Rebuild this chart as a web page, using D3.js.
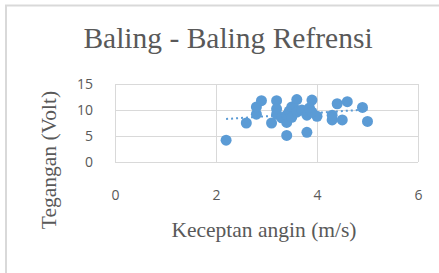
<!DOCTYPE html>
<html lang="en">
  <head>
    <meta charset="utf-8" />
    <title>Baling - Baling Refrensi</title>
    <script type="text/javascript" src="https://d3js.org/d3.v7.min.js"></script>
    <style>
      body {
        margin: 0;
        background: #fff;
      }
      .axis text {
        font-family: "Open Sans", sans-serif;
        font-size: 14px;
        fill: #595959;
      }
      .axis line {
        stroke: #d9d9d9;
      }
      .axis path {
        display: none;
      }
      .judul {
        font-family: "Liberation Serif", serif;
        fill: #595959;
      }
      circle.titik {
        fill: #5b9bd5;
      }
      path.trend {
        fill: none;
        stroke: #5b9bd5;
        stroke-width: 2px;
        stroke-dasharray: 2 3;
      }
    </style>
  </head>
  <body>
    <script>
      let w = 439;
      let h = 273;

      // kecepatan angin (m/s) dan tegangan (Volt)
      let kecepatan = [2.2, 2.6, 2.8, 2.8, 2.9, 3.1, 3.2, 3.2, 3.2, 3.3, 3.4, 3.4, 3.4, 3.4, 3.45, 3.5, 3.6, 3.55, 3.5, 3.6, 3.7, 3.8, 3.8, 3.9, 3.85, 4.0, 3.9, 4.3, 4.3, 4.4, 4.5, 4.6, 4.9, 5.0];
      let tegangan = [4.2, 7.5, 9.2, 10.6, 11.8, 7.5, 11.8, 10.2, 9.2, 8.5, 5.1, 7.6, 8.2, 9.0, 9.8, 10.6, 12.0, 10.3, 8.6, 9.6, 10.0, 5.7, 9.0, 11.9, 10.4, 8.8, 9.6, 8.1, 9.0, 11.2, 8.1, 11.6, 10.5, 7.8];
      let xTicks = [0, 2, 4, 6];
      let yTicks = [0, 5, 10, 15];

      let data = kecepatan.map((k, i) => ({ x: k, y: tegangan[i] }));

      let plot = { left: 115, right: 418, top: 84, bottom: 162 };

      let svg = d3.select("body").append("svg").attr("width", w).attr("height", h);

      // bingkai luar
      svg.append("rect")
        .attr("x", 6)
        .attr("y", 5.5)
        .attr("width", 500)
        .attr("height", 400)
        .attr("fill", "none")
        .attr("stroke", "#d9d9d9")
        .attr("stroke-width", 2);

      let x_scale = d3.scaleLinear().domain([0, 6]).range([plot.left, plot.right]);
      let y_scale = d3.scaleLinear().domain([0, 15]).range([plot.bottom, plot.top]);

      svg.append("g")
        .attr("class", "x axis")
        .attr("transform", `translate(0,${plot.bottom})`)
        .call(d3.axisBottom(x_scale).tickValues(xTicks).tickFormat(d3.format("d")).tickSize(-(plot.bottom - plot.top)).tickPadding(28));

      svg.append("g")
        .attr("class", "y axis")
        .attr("transform", `translate(${plot.left},0)`)
        .call(d3.axisLeft(y_scale).tickValues(yTicks).tickSize(-(plot.right - plot.left)).tickPadding(22));

      // garis tren linear
      let mx = d3.mean(data, (d) => d.x);
      let my = d3.mean(data, (d) => d.y);
      let slope = d3.sum(data, (d) => (d.x - mx) * (d.y - my)) / d3.sum(data, (d) => (d.x - mx) ** 2);
      let icpt = my - slope * mx;
      let ext = d3.extent(data, (d) => d.x);
      let trend = ext.map((v) => ({ x: v, y: icpt + slope * v }));

      svg.selectAll("circle.titik")
        .data(data)
        .join("circle")
        .attr("class", "titik")
        .attr("cx", (d) => x_scale(d.x))
        .attr("cy", (d) => y_scale(d.y))
        .attr("r", 5.5);

      svg.append("path")
        .attr("class", "trend")
        .attr("d", d3.line().x((d) => x_scale(d.x)).y((d) => y_scale(d.y))(trend));

      svg.append("text")
        .attr("class", "judul")
        .attr("x", 228)
        .attr("y", 48)
        .attr("text-anchor", "middle")
        .style("font-size", "29.5px")
        .text("Baling - Baling Refrensi");

      svg.append("text")
        .attr("class", "judul")
        .attr("x", 264)
        .attr("y", 237)
        .attr("text-anchor", "middle")
        .style("font-size", "21.5px")
        .text("Keceptan angin (m/s)");

      svg.append("text")
        .attr("class", "judul")
        .attr("transform", "translate(56,160) rotate(-90)")
        .attr("text-anchor", "middle")
        .style("font-size", "21.5px")
        .text("Tegangan (Volt)");
    </script>
  </body>
</html>
